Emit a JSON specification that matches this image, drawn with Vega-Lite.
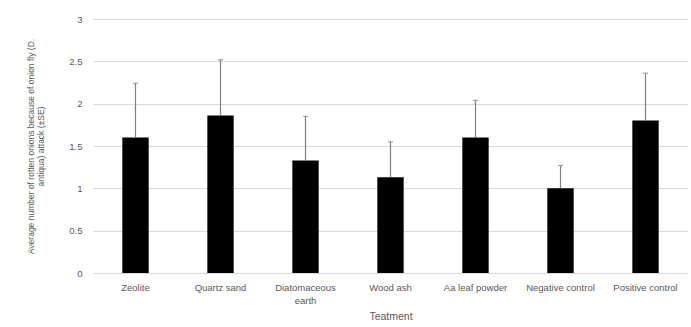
{
  "$schema": "https://vega.github.io/schema/vega-lite/v6.json",
  "width": 595,
  "height": 254,
  "autosize": {"type": "none"},
  "padding": {"left": 93, "top": 19, "right": 3, "bottom": 54},
  "background": "white",
  "config": {
    "view": {"stroke": null},
    "font": "Liberation Sans",
    "axis": {"labelFont": "Liberation Sans", "titleFont": "Liberation Sans", "labelColor": "#595959", "titleColor": "#595959", "labelFontSize": 9.5, "titleFontSize": 9.5, "titleFontWeight": "normal"}
  },
  "data": {
    "values": [
      {"treatment": "Zeolite", "mean": 1.6, "upper": 2.24},
      {"treatment": "Quartz sand", "mean": 1.86, "upper": 2.52},
      {"treatment": "Diatomaceous earth", "mean": 1.33, "upper": 1.85},
      {"treatment": "Wood ash", "mean": 1.13, "upper": 1.55},
      {"treatment": "Aa leaf powder", "mean": 1.6, "upper": 2.04},
      {"treatment": "Negative control", "mean": 1.0, "upper": 1.27},
      {"treatment": "Positive control", "mean": 1.8, "upper": 2.36}
    ]
  },
  "encoding": {
    "x": {
      "field": "treatment",
      "type": "nominal",
      "sort": null,
      "scale": {"paddingInner": 0, "paddingOuter": 0},
      "axis": {
        "title": "Teatment",
        "labelAngle": 0,
        "ticks": false,
        "domain": false,
        "labelPadding": 9,
        "labelLineHeight": 13,
        "labelExpr": "datum.label == 'Diatomaceous earth' ? ['Diatomaceous', 'earth'] : datum.label",
        "titlePadding": 7,
        "titleFontSize": 10.5
      }
    }
  },
  "layer": [
    {
      "mark": {"type": "bar", "color": "black", "width": {"band": 0.31}},
      "encoding": {
        "y": {
          "field": "mean",
          "type": "quantitative",
          "scale": {"domain": [0, 3]},
          "axis": {
            "title": ["Average number of rotten onions because of onion fly (D.", "antiqua) attack (±SE)"],
            "values": [0, 0.5, 1, 1.5, 2, 2.5, 3],
            "format": "~g",
            "ticks": false,
            "domain": false,
            "grid": true,
            "gridColor": "#d9d9d9",
            "gridWidth": 1,
            "labelPadding": 11,
            "titlePadding": 23,
            "titleLineHeight": 10,
            "titleFontSize": 8.5
          }
        }
      }
    },
    {
      "mark": {"type": "rule", "color": "#7f7f7f", "strokeWidth": 1.2},
      "encoding": {
        "y": {"field": "mean", "type": "quantitative"},
        "y2": {"field": "upper"}
      }
    },
    {
      "mark": {"type": "tick", "color": "#7f7f7f", "thickness": 1.2, "size": 5},
      "encoding": {
        "y": {"field": "upper", "type": "quantitative"}
      }
    }
  ]
}
